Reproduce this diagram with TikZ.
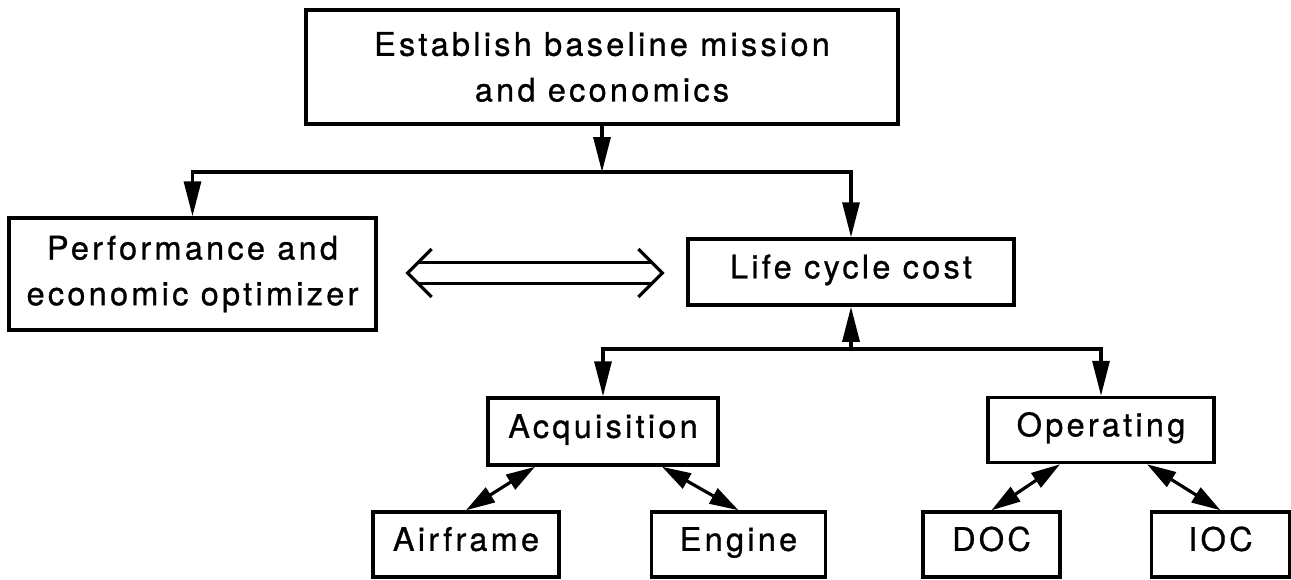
\documentclass[tikz,border=0pt]{standalone}
\usepackage{fontspec}
\setmainfont{TeX Gyre Heros}[LetterSpace=10, FakeBold=0.8]
\usepackage{tikz}
\usetikzlibrary{positioning, arrows.meta, calc}
\tikzset{
    box/.style = {draw, line width=2pt, inner sep=0pt, align=center,
                  font=\fontsize{18.5}{26}\selectfont},            % Plain square boxes
    tag/.style = {box, text height=0.72em, text depth=0em},       % One line boxes
    flow/.style = {line width=1.8pt, -{Triangle[length=0.7cm, width=0.34cm]}},   % One way arrows
    link/.style = {line width=1.8pt,
                   {Triangle[length=0.58cm, width=0.34cm]}-{Triangle[length=0.58cm, width=0.34cm]}}, % Two way arrows
    wide/.style = {line width=1.8pt, line join=miter}             % Hollow double arrow
}

\begin{document}
\begin{tikzpicture}[x=0.02cm, y=-0.02cm]
    \useasboundingbox (0,0) rectangle (1291,579);

    \node [box, minimum width=11.84cm, minimum height=2.28cm] (mission) at (602,67) {Establish baseline mission\\and economics};
    \node [box, minimum width=7.34cm, minimum height=2.24cm] (optimizer) at (192.5,274) {Performance and\\economic optimizer};
    \node [tag, minimum width=6.52cm, minimum height=1.32cm] (lcc) at (851,272) {Life cycle cost};
    \node [tag, minimum width=4.6cm, minimum height=1.34cm] (acq) at (603,431.5) {Acquisition};
    \node [tag, minimum width=4.52cm, minimum height=1.3cm] (oper) at (1101,430) {Operating};
    \node [tag, minimum width=3.72cm, minimum height=1.3cm] (airframe) at (466,544.5) {Airframe};
    \node [tag, minimum width=3.48cm, minimum height=1.3cm, right=1.78cm of airframe] (engine) {Engine};
    \node [tag, minimum width=2.74cm, minimum height=1.3cm] (doc) at (991.5,544.5) {DOC};
    \node [tag, minimum width=2.76cm, minimum height=1.3cm, right=1.76cm of doc] (ioc) {IOC};

    \coordinate (split) at (602,172);
    \coordinate (join) at (851,349);

    \draw [flow] (mission) -- (split);
    \draw [flow] (split) -| (optimizer);
    \draw [flow] (split) -| (lcc);
    \draw [flow] (join) -- (lcc);
    \draw [flow] (join) -| (acq);
    \draw [flow] (join) -| (oper);

    \draw [link] ($(acq.south)+(-68,0)$) -- (airframe.north);
    \draw [link] ($(acq.south)+(59,0)$) -- (engine.north);
    \draw [link] ($(oper.south)+(-41,0)$) -- (doc.north);
    \draw [link] ($(oper.south)+(46,0)$) -- (ioc.north);

    % hollow two way arrow between optimizer and cost
    \coordinate (pl) at ($(optimizer.east)+(30,-1)$);
    \coordinate (pr) at ($(pl -| lcc.west)+(-24,0)$);
    \draw [wide] ([shift={(24,-24)}]pl) -- (pl) -- ([shift={(24,24)}]pl);
    \draw [wide] ([shift={(-24,-24)}]pr) -- (pr) -- ([shift={(-24,24)}]pr);
    \draw [wide] ([shift={(10,-10.5)}]pl) -- ([shift={(-10,-10.5)}]pr);
    \draw [wide] ([shift={(10,10.5)}]pl) -- ([shift={(-10,10.5)}]pr);
\end{tikzpicture}
\end{document}
